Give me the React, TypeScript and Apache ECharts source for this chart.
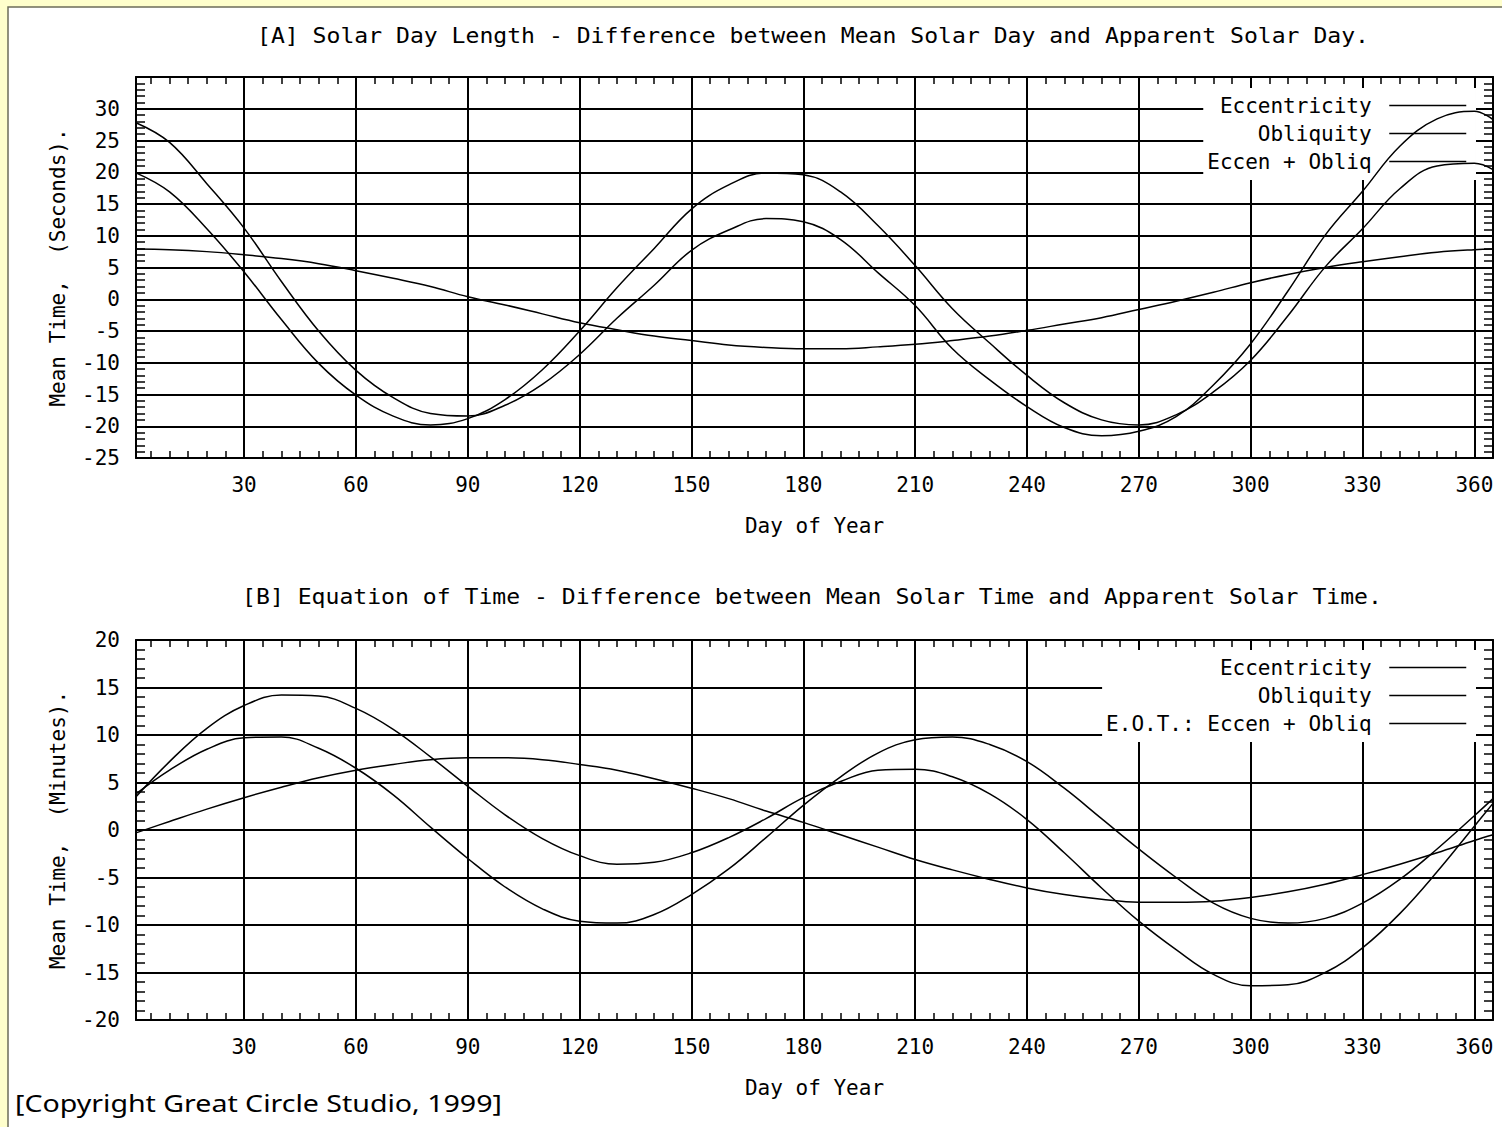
import React, { useEffect, useRef } from "react";
import * as echarts from "echarts";

// ---------- data ----------
const days = [1, 10, 20, 30, 40, 50, 60, 70, 80, 90, 100, 110, 120, 130, 140, 150, 160, 170, 180, 190, 200, 210, 220, 230, 240, 250, 260, 270, 280, 290, 300, 310, 320, 330, 340, 350, 360, 365];

// [A] solar day length, seconds
const eccDaySec = [7.9, 7.8, 7.5, 7.0, 6.4, 5.6, 4.5, 3.3, 2.0, 0.4, -0.9, -2.3, -3.7, -4.8, -5.8, -6.5, -7.2, -7.6, -7.8, -7.8, -7.5, -7.1, -6.5, -5.8, -4.9, -3.9, -2.9, -1.6, -0.3, 1.1, 2.6, 3.9, 5.0, 5.9, 6.7, 7.4, 7.8, 7.9];
const oblDaySec = [19.9, 16.9, 11.1, 4.3, -3.2, -10.1, -15.1, -18.4, -19.8, -18.8, -15.8, -11.1, -5.0, 1.8, 8.0, 14.2, 18.0, 19.9, 19.6, 16.9, 11.6, 5.3, -1.5, -6.9, -12.0, -16.3, -19.0, -19.8, -18.2, -14.6, -9.6, -2.6, 5.1, 11.1, 17.4, 21.0, 21.4, 20.4];
const sumDaySec = [27.8, 24.7, 18.2, 11.2, 2.8, -5.0, -11.2, -15.5, -18.0, -18.4, -16.7, -13.4, -8.7, -3.0, 2.2, 7.7, 10.9, 12.7, 12.2, 9.4, 4.2, -1.0, -7.8, -12.7, -16.9, -20.2, -21.5, -20.8, -18.5, -13.5, -7.0, 1.3, 10.1, 17.0, 24.1, 28.4, 29.6, 28.3];

// [B] equation of time, minutes
const eccEotMin = [-0.3, 0.9, 2.2, 3.4, 4.5, 5.5, 6.3, 6.9, 7.4, 7.6, 7.6, 7.4, 6.9, 6.3, 5.4, 4.4, 3.3, 2.0, 0.8, -0.5, -1.8, -3.1, -4.2, -5.2, -6.1, -6.8, -7.3, -7.6, -7.6, -7.5, -7.1, -6.5, -5.7, -4.7, -3.6, -2.4, -1.1, -0.5];
const oblEotMin = [3.8, 6.3, 8.5, 9.7, 9.8, 8.6, 6.5, 3.7, 0.3, -3.0, -6.0, -8.3, -9.6, -9.8, -8.9, -6.8, -4.1, -0.8, 2.6, 5.6, 8.1, 9.5, 9.8, 9.0, 7.2, 4.4, 1.2, -2.0, -5.0, -7.7, -9.3, -9.8, -9.3, -7.7, -5.2, -2.0, 1.5, 3.3];
const sumEotMin = [3.5, 7.2, 10.7, 13.1, 14.2, 14.1, 12.8, 10.6, 7.7, 4.6, 1.6, -0.9, -2.7, -3.6, -3.4, -2.4, -0.8, 1.2, 3.4, 5.1, 6.3, 6.4, 5.6, 3.8, 1.1, -2.4, -6.1, -9.6, -12.6, -15.2, -16.4, -16.3, -15.0, -12.4, -8.8, -4.4, 0.4, 2.8];

// ticks / labels
const dayLabels = [30, 60, 90, 120, 150, 180, 210, 240, 270, 300, 330, 360];
const dayMinorTicks = [5, 10, 15, 20, 25, 30, 35, 40, 45, 50, 55, 60, 65, 70, 75, 80, 85, 90, 95, 100, 105, 110, 115, 120, 125, 130, 135, 140, 145, 150, 155, 160, 165, 170, 175, 180, 185, 190, 195, 200, 205, 210, 215, 220, 225, 230, 235, 240, 245, 250, 255, 260, 265, 270, 275, 280, 285, 290, 295, 300, 305, 310, 315, 320, 325, 330, 335, 340, 345, 350, 355, 360, 365];

const titleA = "[A] Solar Day Length - Difference between Mean Solar Day and Apparent Solar Day.";
const titleB = "[B] Equation of Time - Difference between Mean Solar Time and Apparent Solar Time.";
const yNameA = "Mean Time, \u00a0(Seconds).";
const yNameB = "Mean Time, \u00a0(Minutes).";
const xName = "Day of Year";
const legendA = ["Eccentricity", "Obliquity", "Eccen + Obliq"];
const legendB = ["Eccentricity", "Obliquity", "E.O.T.: Eccen + Obliq"];
const copyright = "[Copyright Great Circle Studio, 1999]";

const FONT = "'DejaVu Sans Mono', monospace";
const FS = 21;
const BLACK = "#000";

function xAxes(g: number) {
  const line = { show: true, onZero: false, lineStyle: { color: BLACK, width: 2 } };
  return [
    {
      gridIndex: g, type: "value", position: "bottom", min: 1, max: 365,
      axisLine: line,
      axisTick: { show: true, inside: true, length: 7, customValues: dayMinorTicks, lineStyle: { color: BLACK, width: 1.5 } },
      axisLabel: { show: true, customValues: dayLabels, margin: 16, color: BLACK, fontFamily: FONT, fontSize: FS },
      splitLine: { show: false },
      name: xName, nameLocation: "middle", nameGap: 57,
      nameTextStyle: { color: BLACK, fontFamily: FONT, fontSize: FS },
    },
    {
      gridIndex: g, type: "value", position: "bottom", min: 1, max: 365,
      axisLine: { show: false, onZero: false },
      axisTick: { show: false, customValues: dayLabels },
      axisLabel: { show: false },
      splitLine: { show: true, lineStyle: { color: BLACK, width: 2 } },
    },
    {
      gridIndex: g, type: "value", position: "top", min: 1, max: 365,
      axisLine: line,
      axisTick: { show: true, inside: true, length: 7, customValues: dayMinorTicks, lineStyle: { color: BLACK, width: 1.5 } },
      axisLabel: { show: false },
      splitLine: { show: false },
    },
  ];
}

function yAxes(g: number, min: number, max: number, name: string, hide: number | null) {
  const line = { show: true, onZero: false, lineStyle: { color: BLACK, width: 2 } };
  const tick = { show: true, inside: true, length: 9, lineStyle: { color: BLACK, width: 1.5 } };
  const minor = { show: true, splitNumber: 5, length: 9, lineStyle: { color: BLACK, width: 1.5 } };
  return [
    {
      gridIndex: g, type: "value", position: "left", min, max, interval: 5,
      axisLine: line, axisTick: tick, minorTick: minor,
      axisLabel: {
        margin: 16, color: BLACK, fontFamily: FONT, fontSize: FS,
        formatter: (v: number) => (hide !== null && v === hide ? "" : String(v)),
      },
      splitLine: { show: true, lineStyle: { color: BLACK, width: 2 } },
      name, nameLocation: "middle", nameGap: 68,
      nameTextStyle: { color: BLACK, fontFamily: FONT, fontSize: FS },
    },
    {
      gridIndex: g, type: "value", position: "right", min, max, interval: 5,
      axisLine: line, axisTick: tick, minorTick: minor,
      axisLabel: { show: false },
      splitLine: { show: false },
    },
  ];
}

function series(name: string, ys: number[], xi: number, yi: number) {
  return {
    type: "line", name, xAxisIndex: xi, yAxisIndex: yi,
    data: days.map((d, i) => [d, ys[i]]),
    symbol: "none", smooth: 0.4, z: 3, silent: true,
    lineStyle: { color: BLACK, width: 1.5 },
    itemStyle: { color: BLACK },
  };
}

function legend(data: string[], top: number) {
  return {
    data, orient: "vertical", align: "right", right: 26, top,
    itemWidth: 77, itemHeight: 14, itemGap: 7,
    padding: [7, 9, 8, 4], backgroundColor: "#fff", z: 1,
    selectedMode: false,
    formatter: (n: string) => n + "\u00a0",
    textStyle: { color: BLACK, fontFamily: FONT, fontSize: FS, lineHeight: 20 },
    lineStyle: { color: BLACK, width: 1.5 },
    itemStyle: { opacity: 0 },
  };
}

export default function App() {
  const ref = useRef<HTMLDivElement>(null);
  useEffect(() => {
    const chart = echarts.init(ref.current!, null, { renderer: "svg" });
    chart.setOption({
      animation: false,
      backgroundColor: "#ffffcc",
      grid: [
        { left: 136, top: 77, width: 1357, height: 381 },
        { left: 136, top: 640, width: 1357, height: 380 },
      ],
      xAxis: [...xAxes(0), ...xAxes(1)],
      yAxis: [...yAxes(0, -25, 35, yNameA, 35), ...yAxes(1, -20, 20, yNameB, null)],
      legend: [legend(legendA, 88), legend(legendB, 650)],
      graphic: [
        {
          type: "rect", z: -10, silent: true,
          shape: { x: 8, y: 7, width: 1500, height: 1125 },
          style: { fill: "#fff", stroke: "#6e6e5a", lineWidth: 1.5 },
        },
        {
          type: "text", x: 813, y: 36, scaleX: 1.1, z: 10, silent: true,
          style: { text: titleA, fontFamily: FONT, fontSize: FS, fill: BLACK, align: "center", verticalAlign: "middle" },
        },
        {
          type: "text", x: 812, y: 597, scaleX: 1.1, z: 10, silent: true,
          style: { text: titleB, fontFamily: FONT, fontSize: FS, fill: BLACK, align: "center", verticalAlign: "middle" },
        },
        {
          type: "text", x: 15, y: 1103, scaleX: 1.19, z: 10, silent: true,
          style: { text: copyright, fontFamily: "'Noto Sans', sans-serif", fontSize: 24, fill: BLACK, align: "left", verticalAlign: "middle" },
        },
      ],
      series: [
        series(legendA[0], eccDaySec, 0, 0),
        series(legendA[1], oblDaySec, 0, 0),
        series(legendA[2], sumDaySec, 0, 0),
        series(legendB[0], eccEotMin, 3, 2),
        series(legendB[1], oblEotMin, 3, 2),
        series(legendB[2], sumEotMin, 3, 2),
      ],
    });
    return () => chart.dispose();
  }, []);
  return <div ref={ref} style={{ position: "absolute", left: 0, top: 0, width: 1502, height: 1127 }} />;
}
